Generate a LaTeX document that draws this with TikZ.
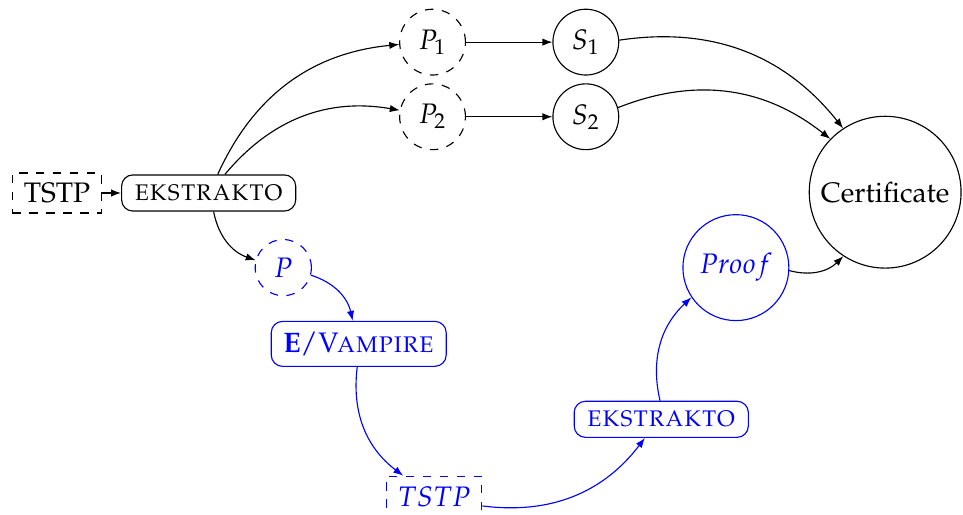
\documentclass[tikz,border=0pt]{standalone}
\usepackage[T1]{fontenc}
\usepackage{mathpazo}
\usetikzlibrary{arrows.meta}
\tikzset{%
  >={Latex[length=3.5pt,width=2.6pt]},
  % Specifications for style of nodes:
          base/.style = {rectangle, rounded corners, draw=black,
                         text centered, align=center, inner xsep=4pt},
          tool/.style = {base, minimum width=2.17cm, minimum height=0.45cm},
       vampire/.style = {base, minimum width=2.18cm, minimum height=0.56cm},
         tfile/.style = {rectangle, draw=black, dashed, minimum height=0.5cm,
                         inner xsep=4pt},
       problem/.style = {circle, draw=black, dashed, minimum size=8.2mm},
      solution/.style = {circle, draw=black, minimum size=8.2mm},
     certified/.style = {circle, draw=black, inner sep=3.3pt},
        redone/.style = {draw=blue, text=blue},
}
\begin{document}
\begin{tikzpicture}[node distance=1.5cm]
\useasboundingbox (0,0) rectangle (12,6.405);
% Specification of nodes (position, etc.)
\node (tstp)       [tfile] at (0.71,4.0)                      {TSTP};
\node (ekstrakto)  [tool, right of=tstp, xshift=3.9mm]        {\textsc{ekstrakto}};
\node (p1)         [problem, right of=ekstrakto, xshift=12.9mm, yshift=18.8mm]
                                                              {$P_1$};
\node (s1)         [solution, right of=p1, xshift=4.1mm]      {$S_1$};
\node (p2)         [problem, below of=p1, yshift=5.7mm]       {$P_2$};
\node (s2)         [solution, right of=p2, xshift=4.1mm]      {$S_2$};
\node (cert)       [certified, right of=s2, xshift=22.3mm, yshift=-9.4mm]
                                                              {Certificate};
\node (p)          [problem, redone, minimum size=7mm, below of=ekstrakto,
                    xshift=9.3mm, yshift=5.7mm]               {$P$};
\node (prover)     [vampire, redone, below of=p, xshift=9.4mm, yshift=5.5mm]
                                                   {\textbf{E}/\textsc{Vampire}};
\node (tstpout)    [tfile, redone, minimum width=1.17cm, below of=prover,
                    xshift=9.4mm, yshift=-4.0mm]              {$TSTP$};
\node (ekstrakto2) [tool, redone, right of=tstpout, xshift=13.3mm, yshift=9.6mm]
                                                              {\textsc{ekstrakto}};
\node (proof)      [solution, redone, minimum size=13.2mm, above of=ekstrakto2,
                    xshift=9.3mm, yshift=3.9mm]               {$Proof$};
% Specification of lines between nodes specified above
\draw[->]          (tstp) -- (ekstrakto);
\draw[->]          (ekstrakto) to[bend left] (p1);
\draw[->]          (ekstrakto) to[bend left] (p2);
\draw[->]          (p1) -- (s1);
\draw[->]          (p2) -- (s2);
\draw[->]          (s1) to[bend left] (cert);
\draw[->]          (s2) to[bend left] (cert);
\draw[->]          (ekstrakto) to[bend right] (p);
\draw[->, blue]    (p) to[bend left] (prover);
\draw[->, blue]    (prover) to[bend right] (tstpout);
\draw[->, blue]    (tstpout) to[bend right] (ekstrakto2);
\draw[->, blue]    (ekstrakto2) to[bend left] (proof);
\draw[->]          (proof) to[bend right] (cert);
\end{tikzpicture}
\end{document}
